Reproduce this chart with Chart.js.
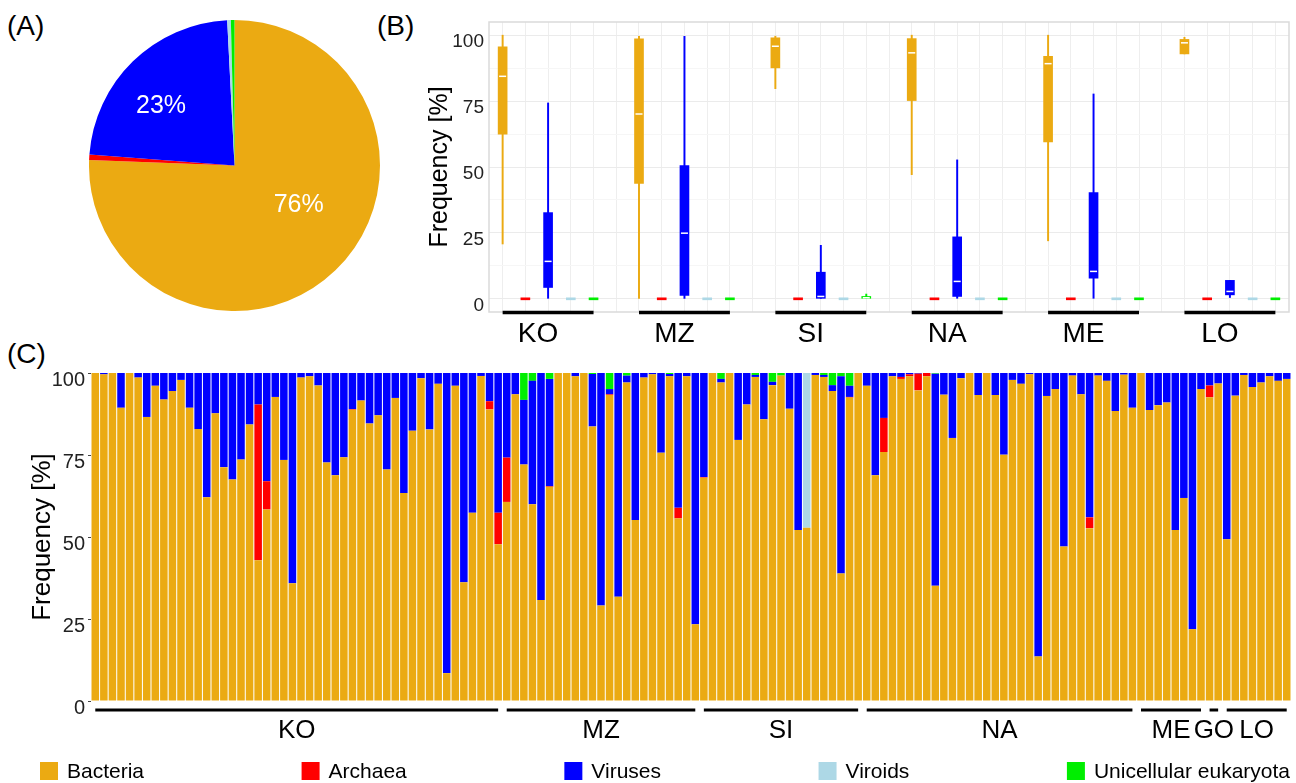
<!DOCTYPE html>
<html>
<head>
<meta charset="utf-8">
<script src="https://cdn.jsdelivr.net/npm/chart.js@4.4.1/dist/chart.umd.min.js"></script>
<style>
  body { margin: 0; background: #fff; width: 1296px; height: 783px; overflow: hidden; position: relative; font-family: "Liberation Sans", Arial, sans-serif; }
  canvas { position: absolute; }
  .tag { position: absolute; font-size: 28px; line-height: 32px; color: #000; }
</style>
</head>
<body>
<div class="tag" style="left:7px;top:10px">(A)</div>
<div class="tag" style="left:377px;top:10px">(B)</div>
<div class="tag" style="left:7px;top:338px">(C)</div>
<canvas id="pie" width="291" height="291" style="left:89px;top:20px"></canvas>
<canvas id="box" width="876" height="350" style="left:420px;top:0px"></canvas>
<canvas id="bars" width="1296" height="443" style="left:0px;top:340px"></canvas>
<script>
// ---- data ----
const taxa = ['Bacteria', 'Archaea', 'Viruses', 'Viroids', 'Unicellular eukaryota'];
const colors = ['#EBAA12', '#FF0000', '#0000FF', '#ADD8E6', '#00EE00'];

// (A) overall share, %
const pieShare = [75.6, 0.6, 23.0, 0.4, 0.4];

// (B) per site box stats: [whisker low, q1, median, q3, whisker high]
const sites = ['KO', 'MZ', 'SI', 'NA', 'ME', 'LO'];
const boxBacteria = [[20.8, 62.5, 84.4, 95.6, 100], [0, 43.8, 70.1, 98.6, 99.6], [79.7, 87.6, 95.8, 99.0, 99.6],
                     [47.1, 75.2, 93.3, 98.7, 100], [22.0, 59.5, 89.2, 92.0, 100], [92.9, 92.9, 97.1, 98.4, 99.2]];
const boxArchaea = [[0, 0, 0, 0, 0], [0, 0, 0, 0, 0], [0, 0, 0, 0, 0], [0, 0, 0, 0, 0], [0, 0, 0, 0, 0], [0, 0, 0, 0, 0]];
const boxViruses = [[0, 4.3, 14.2, 32.7, 74.3], [0, 1.3, 24.9, 50.5, 99.6], [0, 0, 0.9, 10.1, 20.3],
                    [0, 0.9, 6.6, 23.5, 52.7], [0, 7.8, 10.4, 40.3, 77.7], [0.5, 1.5, 2.8, 7.0, 7.0]];
const boxViroids = [[0, 0, 0, 0, 0], [0, 0, 0, 0, 0], [0, 0, 0, 0, 0], [0, 0, 0, 0, 0], [0, 0, 0, 0, 0], [0, 0, 0, 0, 0]];
const boxEukaryota = [[0, 0, 0, 0, 0], [0, 0, 0, 0, 0], [0, 0, 0.4, 0.9, 1.8], [0, 0, 0, 0, 0], [0, 0, 0, 0, 0], [0, 0, 0, 0, 0]];

// (C) per sample composition, %
const groupNames = ['KO', 'MZ', 'SI', 'NA', 'ME', 'GO', 'LO'];
const groupSizes = [48, 23, 19, 32, 8, 2, 8];
const bacteria = [
  100, 99.6, 100, 89.4, 100, 98.6, 86.6, 96.1, 91.9, 94.5, 97.9, 89.4, 82.9, 62.1, 87.7, 71.3, 67.5, 73.6, 84.3, 42.9,
  58.4, 92.7, 73.5, 35.9, 98.6, 99.0, 96.2, 72.7, 68.8, 74.3, 88.8, 91.6, 84.6, 87.1, 70.6, 92.4, 63.4, 82.4, 98.4, 82.8,
  96.7, 8.5, 96.1, 36.2, 57.4, 99.1, 88.9, 47.8, 60.7, 93.5, 72.1, 60.0, 30.8, 65.3, 100, 100, 99.0, 100, 83.7, 29.1,
  93.3, 31.8, 97.1, 55.2, 98.6, 99.6, 75.7, 99.0, 55.7, 99.0, 23.4, 68.1, 100, 97.1, 100, 79.6, 90.4, 98.8, 85.9, 96.3,
  99.2, 89.1, 52.1, 52.8, 99.4, 98.8, 94.5, 38.9, 92.5, 100, 96.1, 68.8, 75.9, 99.0, 98.2, 99.0, 94.7, 99.0, 35.1, 93.4,
  80.2, 98.4, 100, 93.3, 100, 93.3, 75.1, 97.9, 96.7, 99.6, 13.6, 93.0, 95.1, 47.1, 99.2, 93.5, 52.7, 99.2, 97.6, 88.4,
  99.5, 89.4, 100, 88.7, 90.2, 91.0, 52.1, 61.9, 21.9, 95.1, 92.6, 96.8, 49.3, 93.1, 99.4, 95.7, 97.1, 99.0, 97.6, 98.2];
const archaea = [
  0, 0, 0, 0, 0, 0, 0, 0, 0, 0, 0, 0, 0, 0, 0, 0, 0, 0, 0, 47.5,
  8.6, 0, 0, 0, 0, 0, 0, 0, 0, 0, 0.2, 0, 0, 0, 0, 0, 0, 0, 0, 0,
  0, 0, 0, 0, 0, 0, 2.5, 9.6, 13.5, 0, 0, 0, 0, 0.2, 0, 0, 0, 0, 0, 0,
  0.2, 0, 0, 0, 0, 0, 0, 0, 3.2, 0, 0, 0.2, 0, 0, 0, 0, 0, 0, 0, 0,
  0, 0, 0, 0, 0, 0, 0, 0, 0.2, 0, 0, 0, 10.4, 0, 0.6, 0.6, 5.1, 1.0, 0, 0,
  0, 0, 0, 0, 0, 0, 0, 0, 0, 0, 0, 0, 0, 0, 0, 0, 3.3, 0, 0, 0,
  0, 0, 0, 0, 0, 0, 0, 0, 0, 0, 3.6, 0, 0, 0, 0, 0, 0, 0, 0, 0];
const viruses = [
  0, 0.4, 0, 10.6, 0, 1.4, 13.4, 3.9, 8.1, 5.5, 2.1, 10.6, 17.1, 37.9, 12.3, 28.7, 32.5, 26.4, 15.7, 9.6,
  33.0, 7.3, 26.5, 64.1, 1.4, 1.0, 3.8, 27.3, 31.2, 25.7, 11.0, 8.4, 15.4, 12.9, 29.4, 7.6, 36.6, 17.6, 1.6, 17.2,
  3.3, 91.5, 3.9, 63.8, 42.6, 0.9, 8.6, 42.6, 25.8, 6.5, 19.7, 37.6, 69.2, 32.7, 0, 0, 1.0, 0, 16.0, 70.9,
  1.6, 68.2, 2.1, 44.8, 1.4, 0.4, 24.3, 0.7, 41.1, 1.0, 76.6, 31.7, 0, 1.1, 0, 20.4, 9.6, 0.6, 14.1, 1.0,
  0, 10.9, 47.9, 0, 0.6, 0.6, 1.8, 60.1, 3.4, 0, 3.9, 31.2, 13.7, 1.0, 1.2, 0.4, 0.2, 0, 64.7, 6.6,
  19.8, 1.6, 0, 6.7, 0, 6.7, 24.9, 2.1, 3.3, 0.4, 86.4, 7.0, 4.9, 52.9, 0.8, 6.5, 44.0, 0.8, 2.4, 11.6,
  0.5, 10.6, 0, 11.3, 9.8, 9.0, 47.9, 38.1, 78.1, 4.9, 3.8, 3.2, 50.7, 6.9, 0.6, 4.3, 2.9, 1.0, 2.4, 1.8];
const viroids = [
  0, 0, 0, 0, 0, 0, 0, 0, 0, 0, 0, 0, 0, 0, 0, 0, 0, 0, 0, 0,
  0, 0, 0, 0, 0, 0, 0, 0, 0, 0, 0, 0, 0, 0, 0, 0, 0, 0, 0, 0,
  0, 0, 0, 0, 0, 0, 0, 0, 0, 0, 0, 0, 0, 0, 0, 0, 0, 0, 0, 0,
  0, 0, 0, 0, 0, 0, 0, 0, 0, 0, 0, 0, 0, 0, 0, 0, 0, 0, 0, 0,
  0, 0, 0, 47.2, 0, 0, 0, 0, 0, 0, 0, 0, 0, 0, 0, 0, 0, 0, 0, 0,
  0, 0, 0, 0, 0, 0, 0, 0, 0, 0, 0, 0, 0, 0, 0, 0, 0, 0, 0, 0,
  0, 0, 0, 0, 0, 0, 0, 0, 0, 0, 0, 0, 0, 0, 0, 0, 0, 0, 0, 0];
const eukaryota = [
  0, 0, 0, 0, 0, 0, 0, 0, 0, 0, 0, 0, 0, 0, 0, 0, 0, 0, 0, 0,
  0, 0, 0, 0, 0, 0, 0, 0, 0, 0, 0, 0, 0, 0, 0, 0, 0, 0, 0, 0,
  0, 0, 0, 0, 0, 0, 0, 0, 0, 0, 8.2, 2.4, 0, 1.8, 0, 0, 0, 0, 0.3, 0,
  4.9, 0, 0.8, 0, 0, 0, 0, 0.3, 0, 0, 0, 0, 0, 1.8, 0, 0, 0, 0.6, 0, 2.7,
  0.8, 0, 0, 0, 0, 0.6, 3.7, 1.0, 3.9, 0, 0, 0, 0, 0, 0, 0, 0, 0, 0.2, 0,
  0, 0, 0, 0, 0, 0, 0, 0, 0, 0, 0, 0, 0, 0, 0, 0, 0, 0, 0, 0,
  0, 0, 0, 0, 0, 0, 0, 0, 0, 0, 0, 0, 0, 0, 0, 0, 0, 0, 0, 0];

const FONT = '"Liberation Sans", Arial, sans-serif';
Chart.defaults.font.family = FONT;
Chart.defaults.animation = false;
Chart.defaults.plugins.legend.display = false;
Chart.defaults.plugins.tooltip.enabled = false;

// ---- (A) pie ----
const pieLabelSpots = { 0: [122, 0.52], 2: [309, 0.65] }; // angle from top (deg), radius fraction
new Chart(document.getElementById('pie'), {
  type: 'pie',
  data: {
    labels: taxa,
    datasets: [{ data: pieShare, backgroundColor: colors, borderWidth: 0 }]
  },
  options: { responsive: false, layout: { padding: 0 } },
  plugins: [{
    id: 'pieLabels',
    afterDatasetsDraw(chart) {
      const ctx = chart.ctx;
      const arcs = chart.getDatasetMeta(0).data;
      ctx.save();
      ctx.fillStyle = '#fff';
      ctx.font = '25px ' + FONT;
      ctx.textAlign = 'center';
      ctx.textBaseline = 'middle';
      Object.keys(pieLabelSpots).forEach(k => {
        const arc = arcs[k];
        const [deg, frac] = pieLabelSpots[k];
        const a = deg * Math.PI / 180;
        const r = arc.outerRadius * frac;
        ctx.fillText(Math.round(pieShare[k]) + '%', arc.x + r * Math.sin(a), arc.y - r * Math.cos(a));
      });
      ctx.restore();
    }
  }]
});

// ---- (B) boxplots ----
const boxSets = [boxBacteria, boxArchaea, boxViruses, boxViroids, boxEukaryota];
const slot = (site, t) => site * 6 + t;
const boxDatasets = [];
boxSets.forEach((set, t) => {
  boxDatasets.push({
    label: taxa[t] + ' whisker',
    data: set.map((s, i) => ({ x: slot(i, t), y: [s[0], s[4]] })),
    backgroundColor: colors[t], barThickness: 1.3, grouped: false, order: 3
  });
  boxDatasets.push({
    label: taxa[t],
    data: set.map((s, i) => ({ x: slot(i, t), y: [s[1], s[3]] })),
    backgroundColor: colors[t], barThickness: 9, minBarLength: 2, grouped: false, order: 2
  });
});
const medians = [];
boxSets.forEach((set, t) => set.forEach((s, i) => { if (s[3] > s[1]) medians.push({ x: slot(i, t), y: s[2] }); }));
boxDatasets.push({
  type: 'scatter', label: 'median', data: medians,
  pointStyle: 'line', pointRadius: 3.5, borderColor: '#fff', borderWidth: 1.5, order: 1
});

new Chart(document.getElementById('box'), {
  type: 'bar',
  data: { datasets: boxDatasets },
  options: {
    responsive: false,
    layout: { padding: { top: 22, right: 7, left: 0, bottom: 0 } },
    scales: {
      x: {
        type: 'linear', min: -0.6, max: 34.6, offset: false,
        afterBuildTicks: s => { s.ticks = Array.from({ length: 35 }, (_, i) => ({ value: i })); },
        ticks: { display: false },
        grid: { offset: false, color: '#EEEEEE', drawTicks: false },
        border: { display: false },
        afterFit: s => { s.height = 38; }
      },
      y: {
        min: -5, max: 105,
        afterBuildTicks: s => { s.ticks = [0, 12.5, 25, 37.5, 50, 62.5, 75, 87.5, 100].map(v => ({ value: v })); },
        ticks: { callback: v => (v % 25 === 0 ? v : ''), font: { size: 19 }, color: '#222', padding: 5, labelOffset: 7 },
        grid: { color: c => (c.tick && c.tick.value % 25 === 0 ? '#EBEBEB' : '#F6F6F6'), drawTicks: false },
        border: { display: false },
        title: { display: true, text: 'Frequency [%]', font: { size: 25 }, color: '#000', padding: { top: 5, bottom: 0 } },
        afterFit: s => { s.width = 69; }
      }
    }
  },
  plugins: [{
    id: 'frame',
    beforeDatasetsDraw(chart) {
      const { ctx, chartArea: a } = chart;
      ctx.save();
      ctx.strokeStyle = '#DADADA';
      ctx.lineWidth = 1.5;
      ctx.strokeRect(a.left, a.top, a.right - a.left, a.bottom - a.top);
      ctx.restore();
    },
    afterDraw(chart) {
      const { ctx, chartArea: a, scales: { x } } = chart;
      ctx.save();
      ctx.strokeStyle = '#000';
      ctx.lineWidth = 3.5;
      ctx.fillStyle = '#000';
      ctx.font = '28px ' + FONT;
      ctx.textAlign = 'center';
      ctx.textBaseline = 'middle';
      sites.forEach((name, i) => {
        const x1 = x.getPixelForValue(slot(i, 0));
        const x2 = x.getPixelForValue(slot(i, 4));
        ctx.beginPath();
        ctx.moveTo(x1, a.bottom + 0.5);
        ctx.lineTo(x2, a.bottom + 0.5);
        ctx.stroke();
        ctx.fillText(name, x.getPixelForValue(slot(i, 2)) - 10, a.bottom + 22);
      });
      ctx.restore();
    }
  }]
});

// ---- (C) stacked bars ----
const sampleLabels = [];
groupNames.forEach((g, gi) => { for (let k = 1; k <= groupSizes[gi]; k++) sampleLabels.push(g + ' ' + k); });
const compSets = [bacteria, archaea, viruses, viroids, eukaryota];

new Chart(document.getElementById('bars'), {
  type: 'bar',
  data: {
    labels: sampleLabels,
    datasets: compSets.map((vals, t) => ({
      label: taxa[t], data: vals, backgroundColor: colors[t],
      categoryPercentage: 1.0, barPercentage: 0.88, borderWidth: 0
    }))
  },
  options: {
    responsive: false,
    layout: { padding: { top: 33, right: 5, left: 0, bottom: 0 } },
    scales: {
      x: {
        stacked: true,
        ticks: { display: false },
        grid: { display: false },
        border: { display: false },
        afterFit: s => { s.height = 82; }
      },
      y: {
        stacked: true, min: 0, max: 100,
        ticks: { stepSize: 25, font: { size: 20 }, color: '#222', padding: 3, labelOffset: 7 },
        grid: { drawOnChartArea: false, drawTicks: true, tickLength: 3, color: '#444' },
        border: { display: false },
        title: { display: true, text: 'Frequency [%]', font: { size: 26 }, color: '#000', padding: { top: 27, bottom: 0 } },
        afterFit: s => { s.width = 91; }
      }
    }
  },
  plugins: [{
    id: 'groupsAndLegend',
    afterDraw(chart) {
      const { ctx, chartArea: a, scales: { x } } = chart;
      ctx.save();
      // site underlines and names
      ctx.strokeStyle = '#000';
      ctx.lineWidth = 3;
      ctx.fillStyle = '#000';
      ctx.font = '26px ' + FONT;
      ctx.textAlign = 'center';
      ctx.textBaseline = 'middle';
      let first = 0;
      groupNames.forEach((g, gi) => {
        const last = first + groupSizes[gi] - 1;
        const x1 = x.getPixelForValue(first);
        const x2 = x.getPixelForValue(last);
        ctx.beginPath();
        ctx.moveTo(x1, a.bottom + 9);
        ctx.lineTo(x2, a.bottom + 9);
        ctx.stroke();
        ctx.fillText(g, (x1 + x2) / 2, a.bottom + 30);
        first = last + 1;
      });
      // legend
      ctx.font = '21px ' + FONT;
      ctx.textAlign = 'left';
      const box = 18, gap = 9, startX = 40, endX = 1290;
      const widths = taxa.map(t => box + gap + ctx.measureText(t).width);
      const spacing = (endX - startX - widths.reduce((p, q) => p + q, 0)) / (taxa.length - 1);
      let lx = startX;
      const ly = a.bottom + 70;
      taxa.forEach((t, i) => {
        ctx.fillStyle = colors[i];
        ctx.fillRect(lx, ly - box / 2, box, box);
        ctx.fillStyle = '#000';
        ctx.fillText(t, lx + box + gap, ly + 1);
        lx += widths[i] + spacing;
      });
      ctx.restore();
    }
  }]
});
</script>
</body>
</html>
